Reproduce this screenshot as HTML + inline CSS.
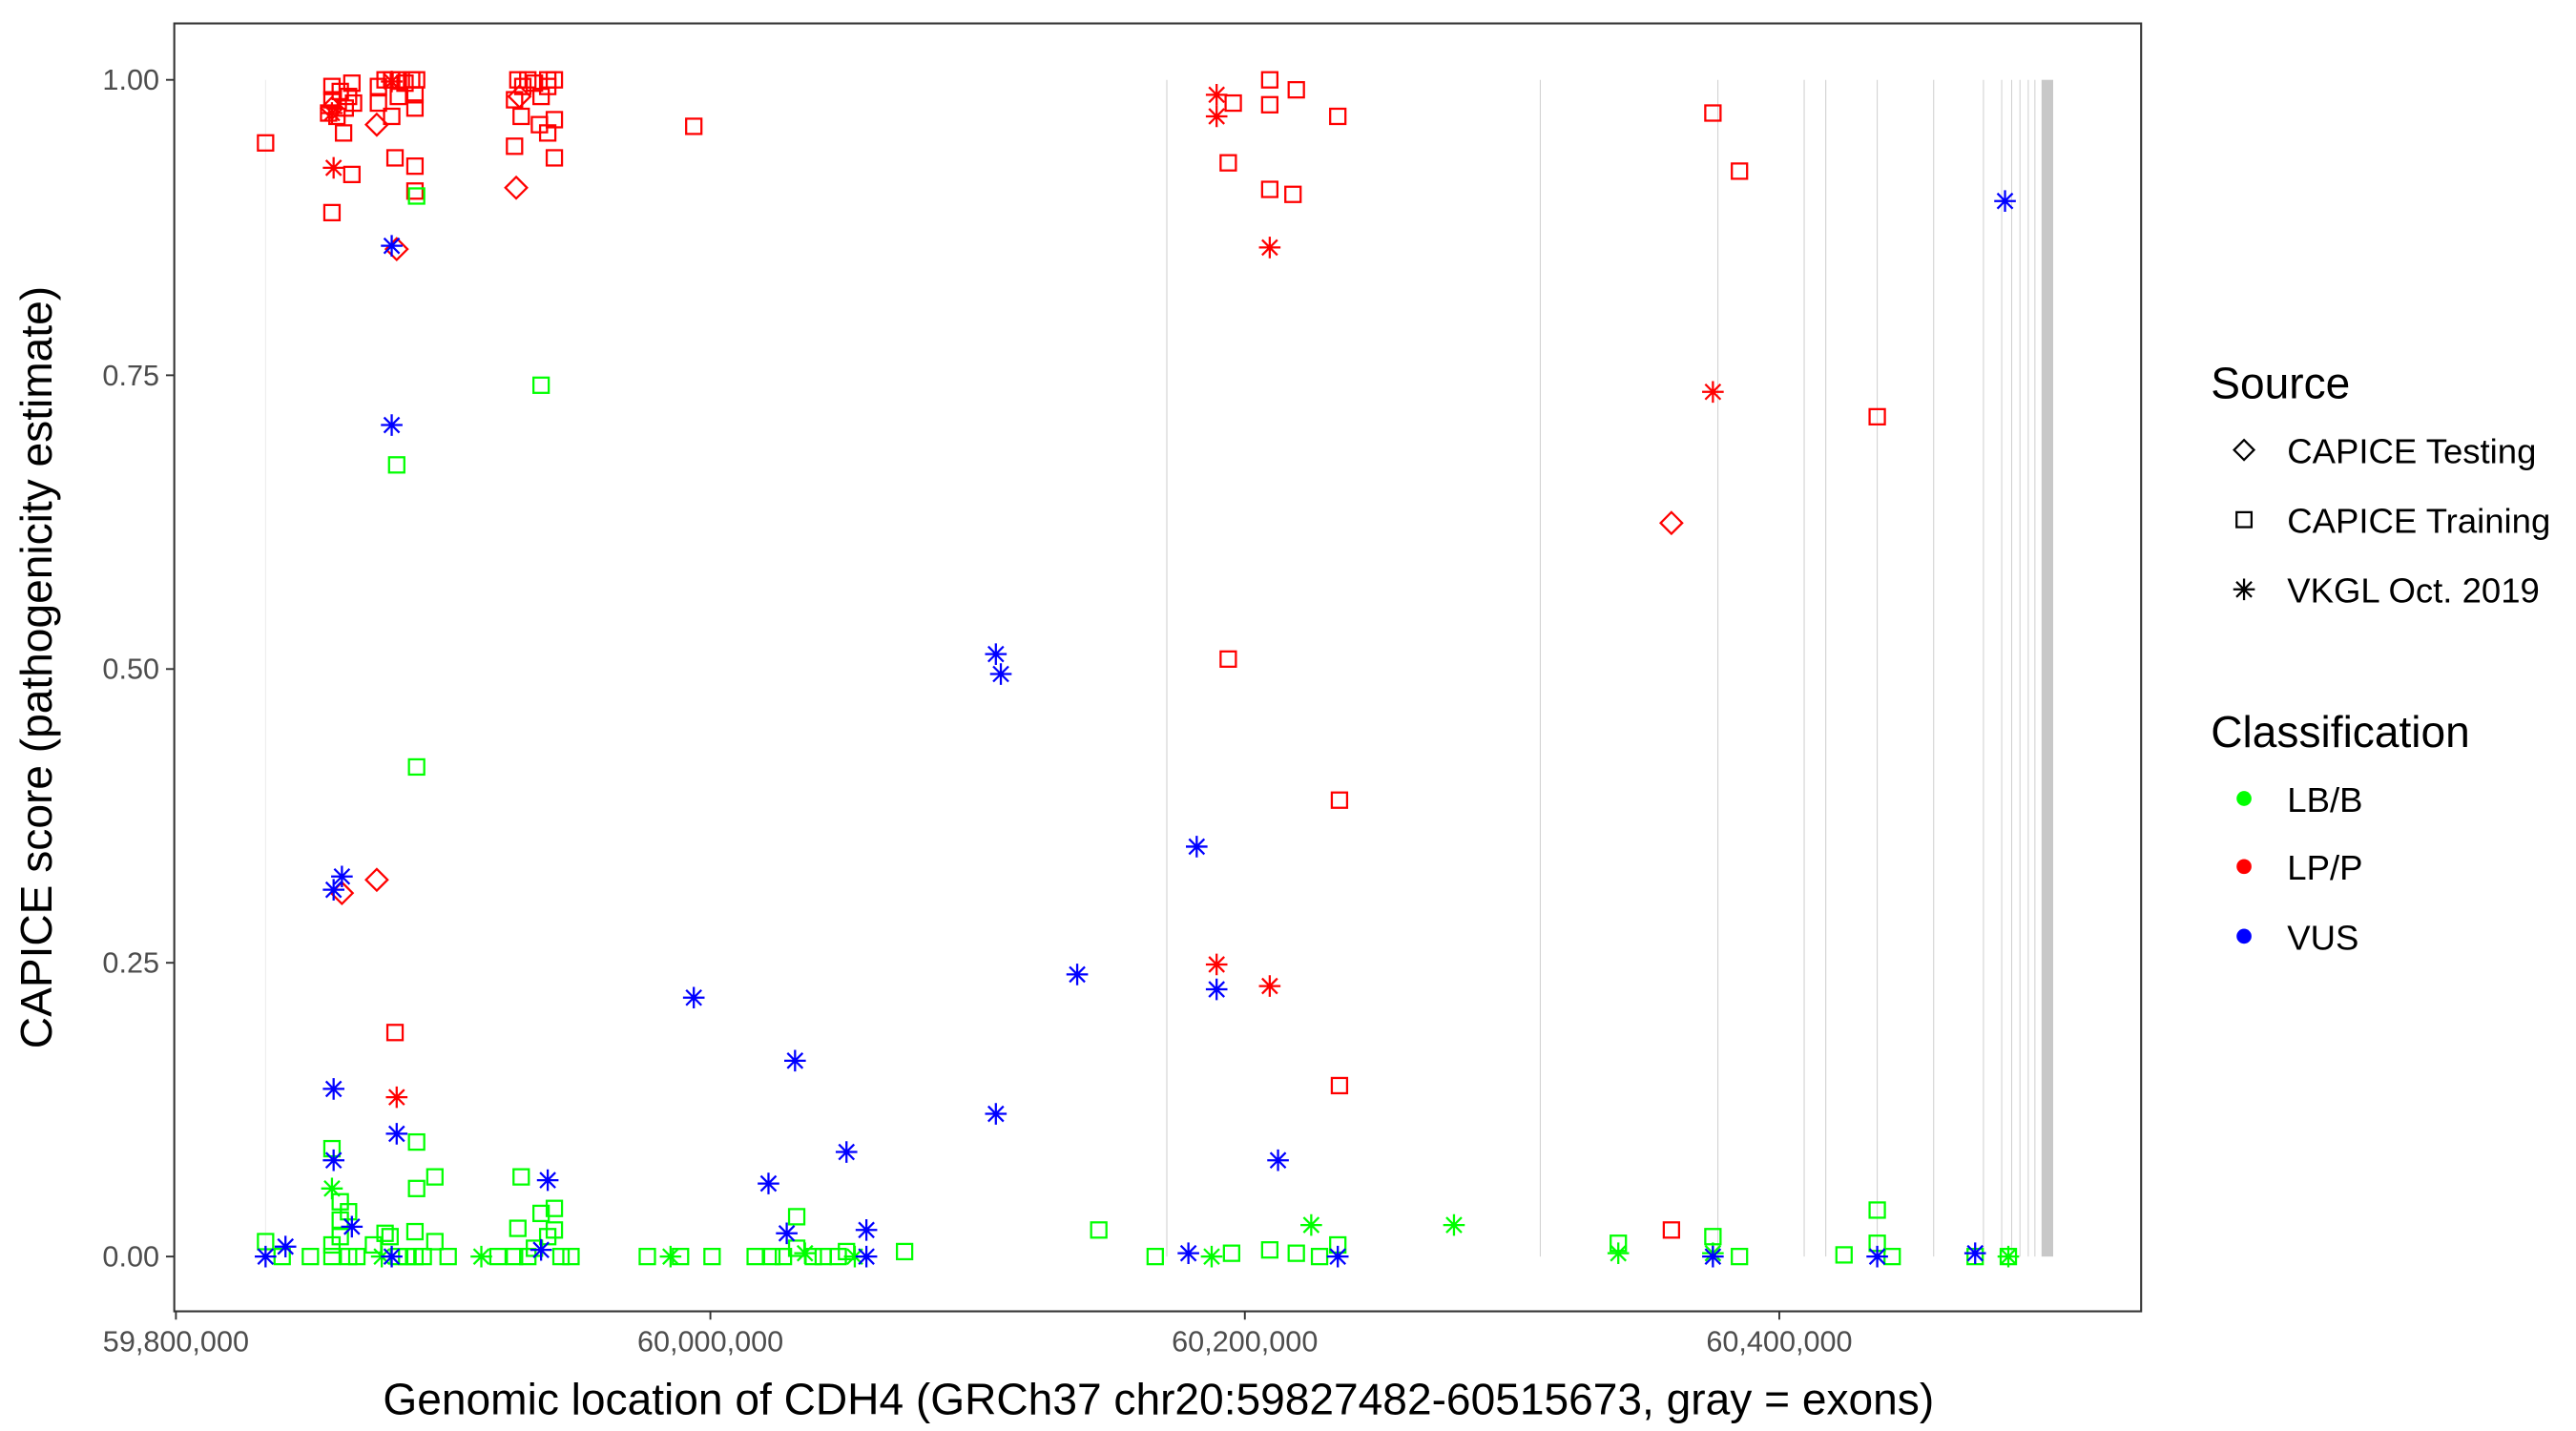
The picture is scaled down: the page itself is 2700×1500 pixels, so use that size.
<!DOCTYPE html>
<html><head><meta charset="utf-8"><style>html,body{margin:0;padding:0;background:#fff}svg{display:block}</style></head>
<body>
<svg width="2700" height="1500" viewBox="0 0 1552 862" xmlns="http://www.w3.org/2000/svg" font-family="Liberation Sans, Arial, sans-serif">
<defs>
<rect id="s" x="-4.6" y="-4.6" width="9.2" height="9.2" fill="none" stroke="currentColor" stroke-width="1.3"/>
<path id="d" d="M0,-6.5L6.5,0L0,6.5L-6.5,0Z" fill="none" stroke="currentColor" stroke-width="1.3"/>
<path id="a" d="M0,-6.5V6.5M-6.5,0H6.5M-4.6,-4.6L4.6,4.6M-4.6,4.6L4.6,-4.6" fill="none" stroke="currentColor" stroke-width="1.3"/>
</defs>
<rect x="0" y="0" width="1552" height="862" fill="#fff"/>
<g stroke="#d0d0d0" stroke-width="0.6">
<line x1="160" y1="48" x2="160" y2="757" stroke="#ebebeb"/>
<line x1="703" y1="48" x2="703" y2="757"/>
<line x1="928" y1="48" x2="928" y2="757"/>
<line x1="1035" y1="48" x2="1035" y2="757"/>
<line x1="1087" y1="48" x2="1087" y2="757"/>
<line x1="1100" y1="48" x2="1100" y2="757"/>
<line x1="1131" y1="48" x2="1131" y2="757"/>
<line x1="1165" y1="48" x2="1165" y2="757"/>
<line x1="1195" y1="48" x2="1195" y2="757"/>
<line x1="1206" y1="48" x2="1206" y2="757"/>
<line x1="1212" y1="48" x2="1212" y2="757"/>
<line x1="1217" y1="48" x2="1217" y2="757"/>
<line x1="1222" y1="48" x2="1222" y2="757"/>
<line x1="1226" y1="48" x2="1226" y2="757"/>
</g>
<rect x="1230" y="48" width="7" height="709" fill="#c8c8c8"/>
<g color="#ff0000">
<use href="#s" x="200" y="52"/><use href="#s" x="200" y="60"/><use href="#s" x="205" y="55"/><use href="#s" x="210" y="58"/><use href="#s" x="212" y="50"/><use href="#s" x="208" y="65"/><use href="#s" x="203" y="70"/><use href="#s" x="207" y="80"/><use href="#s" x="212" y="105"/><use href="#s" x="200" y="128"/><use href="#s" x="160" y="86"/><use href="#s" x="213" y="62"/><use href="#s" x="198" y="68"/>
<use href="#a" x="200" y="68"/><use href="#a" x="201" y="101"/><use href="#a" x="236" y="49"/>
<use href="#d" x="200" y="65"/><use href="#d" x="227" y="75"/><use href="#d" x="239" y="150"/><use href="#d" x="206" y="538"/><use href="#d" x="227" y="530"/><use href="#d" x="311" y="113"/><use href="#d" x="313" y="58"/>
<use href="#s" x="228" y="52"/><use href="#s" x="232" y="48"/><use href="#s" x="236" y="48"/><use href="#s" x="240" y="48"/><use href="#s" x="244" y="50"/><use href="#s" x="248" y="48"/><use href="#s" x="251" y="48"/><use href="#s" x="240" y="58"/><use href="#s" x="250" y="65"/><use href="#s" x="236" y="70"/><use href="#s" x="238" y="95"/><use href="#s" x="250" y="100"/><use href="#s" x="250" y="115"/><use href="#s" x="250" y="57"/><use href="#s" x="228" y="62"/>
<use href="#s" x="312" y="48"/><use href="#s" x="315" y="52"/><use href="#s" x="318" y="48"/><use href="#s" x="322" y="50"/><use href="#s" x="330" y="48"/><use href="#s" x="334" y="48"/><use href="#s" x="310" y="60"/><use href="#s" x="314" y="70"/><use href="#s" x="325" y="75"/><use href="#s" x="330" y="80"/><use href="#s" x="334" y="72"/><use href="#s" x="334" y="95"/><use href="#s" x="310" y="88"/><use href="#s" x="330" y="52"/><use href="#s" x="326" y="58"/>
<use href="#s" x="418" y="76"/>
<use href="#a" x="733" y="57"/><use href="#a" x="733" y="70"/><use href="#s" x="740" y="98"/><use href="#s" x="743" y="62"/><use href="#s" x="765" y="48"/><use href="#s" x="765" y="63"/><use href="#s" x="781" y="54"/><use href="#s" x="765" y="114"/><use href="#s" x="779" y="117"/><use href="#s" x="806" y="70"/><use href="#a" x="765" y="149"/><use href="#s" x="740" y="397"/><use href="#s" x="807" y="482"/><use href="#a" x="733" y="581"/><use href="#a" x="765" y="594"/><use href="#s" x="807" y="654"/>
<use href="#s" x="1032" y="68"/><use href="#s" x="1048" y="103"/><use href="#a" x="1032" y="236"/><use href="#s" x="1131" y="251"/><use href="#d" x="1007" y="315"/><use href="#s" x="1007" y="741"/><use href="#s" x="238" y="622"/><use href="#a" x="239" y="661"/>
</g>
<g color="#00ff00">
<use href="#s" x="251" y="118"/><use href="#s" x="326" y="232"/><use href="#s" x="239" y="280"/><use href="#s" x="251" y="462"/><use href="#s" x="262" y="709"/><use href="#s" x="251" y="688"/><use href="#s" x="251" y="716"/><use href="#s" x="200" y="692"/><use href="#a" x="200" y="716"/><use href="#s" x="205" y="735"/><use href="#s" x="200" y="750"/>
<use href="#s" x="314" y="709"/><use href="#s" x="326" y="731"/><use href="#s" x="334" y="728"/><use href="#s" x="334" y="741"/><use href="#s" x="480" y="733"/><use href="#s" x="662" y="741"/><use href="#s" x="1131" y="729"/><use href="#s" x="1131" y="749"/><use href="#s" x="975" y="749"/><use href="#s" x="1032" y="745"/><use href="#s" x="545" y="754"/>
<use href="#a" x="790" y="738"/><use href="#a" x="876" y="738"/><use href="#a" x="975" y="755"/><use href="#a" x="1032" y="755"/><use href="#s" x="1048" y="757"/><use href="#s" x="1111" y="756"/><use href="#s" x="1140" y="757"/><use href="#s" x="1190" y="757"/><use href="#s" x="1210" y="757"/><use href="#a" x="1210" y="757"/>
<use href="#s" x="696" y="757"/><use href="#a" x="730" y="757"/><use href="#s" x="742" y="755"/><use href="#s" x="765" y="753"/><use href="#s" x="781" y="755"/><use href="#s" x="795" y="757"/><use href="#s" x="806" y="750"/>
<use href="#s" x="390" y="757"/><use href="#a" x="404" y="757"/><use href="#s" x="410" y="757"/><use href="#s" x="429" y="757"/><use href="#s" x="455" y="757"/><use href="#s" x="465" y="757"/><use href="#s" x="472" y="757"/><use href="#s" x="480" y="752"/><use href="#a" x="485" y="755"/><use href="#s" x="490" y="757"/><use href="#s" x="496" y="757"/><use href="#s" x="505" y="757"/><use href="#s" x="510" y="754"/><use href="#a" x="515" y="757"/>
<use href="#s" x="160" y="748"/><use href="#s" x="170" y="757"/><use href="#s" x="187" y="757"/><use href="#s" x="200" y="757"/><use href="#s" x="205" y="745"/><use href="#s" x="210" y="757"/><use href="#s" x="215" y="757"/><use href="#s" x="225" y="750"/><use href="#a" x="230" y="757"/><use href="#s" x="235" y="745"/><use href="#s" x="240" y="757"/><use href="#s" x="245" y="757"/><use href="#s" x="250" y="757"/><use href="#s" x="255" y="757"/><use href="#s" x="262" y="748"/><use href="#s" x="270" y="757"/><use href="#a" x="290" y="757"/><use href="#s" x="300" y="757"/><use href="#s" x="310" y="757"/><use href="#s" x="312" y="740"/><use href="#s" x="318" y="757"/><use href="#s" x="322" y="752"/><use href="#s" x="330" y="745"/><use href="#s" x="338" y="757"/><use href="#s" x="344" y="757"/><use href="#s" x="250" y="742"/><use href="#s" x="232" y="743"/><use href="#s" x="205" y="724"/><use href="#s" x="210" y="730"/>
</g>
<g color="#0000ff">
<use href="#a" x="236" y="148"/><use href="#a" x="236" y="256"/><use href="#a" x="201" y="536"/><use href="#a" x="206" y="528"/><use href="#a" x="201" y="656"/><use href="#a" x="201" y="699"/><use href="#a" x="239" y="683"/><use href="#a" x="330" y="711"/><use href="#a" x="418" y="601"/><use href="#a" x="479" y="639"/><use href="#a" x="600" y="394"/><use href="#a" x="603" y="406"/><use href="#a" x="649" y="587"/><use href="#a" x="600" y="671"/><use href="#a" x="510" y="694"/><use href="#a" x="463" y="713"/><use href="#a" x="474" y="743"/><use href="#a" x="522" y="741"/><use href="#a" x="522" y="757"/><use href="#a" x="721" y="510"/><use href="#a" x="733" y="596"/><use href="#a" x="770" y="699"/><use href="#a" x="716" y="755"/><use href="#a" x="806" y="757"/><use href="#a" x="1032" y="757"/><use href="#a" x="1131" y="757"/><use href="#a" x="1190" y="755"/><use href="#a" x="1208" y="121"/><use href="#a" x="160" y="757"/><use href="#a" x="172" y="751"/><use href="#a" x="212" y="739"/><use href="#a" x="236" y="757"/><use href="#a" x="326" y="753"/>
</g>
<rect x="105" y="14" width="1185" height="776" fill="none" stroke="#333" stroke-width="1.2"/>
<g stroke="#333" stroke-width="1.1">
<line x1="100" y1="48" x2="105" y2="48"/><line x1="100" y1="226" x2="105" y2="226"/><line x1="100" y1="403" x2="105" y2="403"/><line x1="100" y1="580" x2="105" y2="580"/><line x1="100" y1="757" x2="105" y2="757"/>
<line x1="106" y1="790" x2="106" y2="795"/><line x1="428" y1="790" x2="428" y2="795"/><line x1="750" y1="790" x2="750" y2="795"/><line x1="1072" y1="790" x2="1072" y2="795"/>
</g>
<g fill="#4d4d4d" font-size="17.6" text-anchor="end">
<text x="96" y="54">1.00</text><text x="96" y="232">0.75</text><text x="96" y="409">0.50</text><text x="96" y="586">0.25</text><text x="96" y="763">0.00</text>
</g>
<g fill="#4d4d4d" font-size="17.6" text-anchor="middle">
<text x="106" y="814">59,800,000</text><text x="428" y="814">60,000,000</text><text x="750" y="814">60,200,000</text><text x="1072" y="814">60,400,000</text>
</g>
<text x="698" y="852" font-size="26.5" text-anchor="middle" fill="#000">Genomic location of CDH4 (GRCh37 chr20:59827482-60515673, gray = exons)</text>
<text transform="translate(31,402) rotate(-90)" font-size="26.5" text-anchor="middle" fill="#000">CAPICE score (pathogenicity estimate)</text>
<g font-size="26.5" fill="#000">
<text x="1332" y="240">Source</text>
<text x="1332" y="450">Classification</text>
</g>
<g font-size="21" fill="#000">
<text x="1378" y="279">CAPICE Testing</text>
<text x="1378" y="321">CAPICE Training</text>
<text x="1378" y="363">VKGL Oct. 2019</text>
<text x="1378" y="489">LB/B</text>
<text x="1378" y="530">LP/P</text>
<text x="1378" y="572">VUS</text>
</g>
<g color="#000">
<path d="M1352,265L1358,271L1352,277L1346,271Z" fill="none" stroke="#000" stroke-width="1.3"/>
<rect x="1347.5" y="308.5" width="9" height="9" fill="none" stroke="#000" stroke-width="1.3"/>
<use href="#a" x="1352" y="355"/>
</g>
<circle cx="1352" cy="481" r="4.5" fill="#00ff00"/>
<circle cx="1352" cy="522" r="4.5" fill="#ff0000"/>
<circle cx="1352" cy="564" r="4.5" fill="#0000ff"/>
</svg>
</body></html>
